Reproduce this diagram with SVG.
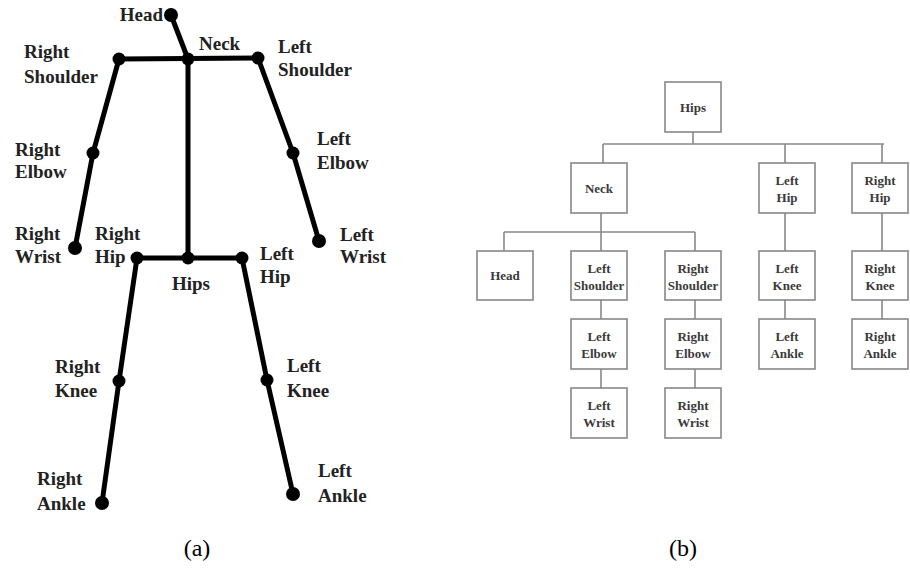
<svg xmlns="http://www.w3.org/2000/svg" width="910" height="569" viewBox="0 0 910 569">
<style>
.bone{stroke:#000;stroke-width:5;stroke-linecap:round;fill:none}
.joint{fill:#000}
.sl{font-family:"Liberation Serif","Times New Roman",serif;font-weight:bold;font-size:19px;fill:#222}
.box{fill:#fff;stroke:#888;stroke-width:1.6}
.link{stroke:#888;stroke-width:1.6;fill:none}
.tl{font-family:"Liberation Serif","Times New Roman",serif;font-weight:bold;font-size:13px;fill:#3a3a3a;text-anchor:middle}
.cap{font-family:"Liberation Serif","Times New Roman",serif;font-size:24px;fill:#000;text-anchor:middle}
</style>
<rect width="910" height="569" fill="#fff"/>
<!-- (a) skeleton -->
<g id="skeleton-connectors">
<line class="bone" x1="171" y1="15" x2="188" y2="59"/>
<line class="bone" x1="119" y1="59" x2="258" y2="58"/>
<line class="bone" x1="188" y1="59" x2="188" y2="258"/>
<polyline class="bone" points="119,59 93,153 75,248"/>
<polyline class="bone" points="258,58 293,153 319,241"/>
<line class="bone" x1="137" y1="258" x2="242" y2="258"/>
<polyline class="bone" points="137,258 119,381 102,503"/>
<polyline class="bone" points="242,258 267,380 293,494"/>
</g>
<g id="j-head"><circle class="joint" cx="171" cy="15" r="7"/><text class="sl" x="163" y="21" text-anchor="end">Head</text></g>
<g id="j-neck"><circle class="joint" cx="188" cy="59" r="6.5"/><text class="sl" x="199" y="50">Neck</text></g>
<g id="j-rshoulder"><circle class="joint" cx="119" cy="59" r="6.5"/><text class="sl" x="24" y="58">Right</text><text class="sl" x="24" y="83">Shoulder</text></g>
<g id="j-lshoulder"><circle class="joint" cx="258" cy="58" r="6.5"/><text class="sl" x="278" y="53">Left</text><text class="sl" x="278" y="76">Shoulder</text></g>
<g id="j-relbow"><circle class="joint" cx="93" cy="153" r="6.5"/><text class="sl" x="15" y="156">Right</text><text class="sl" x="15" y="178">Elbow</text></g>
<g id="j-lelbow"><circle class="joint" cx="293" cy="153" r="6.5"/><text class="sl" x="317" y="145">Left</text><text class="sl" x="317" y="169">Elbow</text></g>
<g id="j-rwrist"><circle class="joint" cx="75" cy="248" r="7"/><text class="sl" x="15" y="240">Right</text><text class="sl" x="15" y="263">Wrist</text></g>
<g id="j-lwrist"><circle class="joint" cx="319" cy="241" r="7"/><text class="sl" x="340" y="241">Left</text><text class="sl" x="340" y="263">Wrist</text></g>
<g id="j-rhip"><circle class="joint" cx="137" cy="258" r="6.5"/><text class="sl" x="95" y="240">Right</text><text class="sl" x="95" y="263">Hip</text></g>
<g id="j-hips"><circle class="joint" cx="188" cy="258" r="6.5"/><text class="sl" x="172" y="290">Hips</text></g>
<g id="j-lhip"><circle class="joint" cx="242" cy="258" r="6.5"/><text class="sl" x="260" y="260">Left</text><text class="sl" x="260" y="283">Hip</text></g>
<g id="j-rknee"><circle class="joint" cx="119" cy="381" r="6.5"/><text class="sl" x="55" y="373">Right</text><text class="sl" x="55" y="397">Knee</text></g>
<g id="j-lknee"><circle class="joint" cx="267" cy="380" r="6.5"/><text class="sl" x="287" y="372">Left</text><text class="sl" x="287" y="397">Knee</text></g>
<g id="j-rankle"><circle class="joint" cx="102" cy="503" r="7"/><text class="sl" x="37" y="485">Right</text><text class="sl" x="37" y="510">Ankle</text></g>
<g id="j-lankle"><circle class="joint" cx="293" cy="494" r="7"/><text class="sl" x="318" y="477">Left</text><text class="sl" x="318" y="502">Ankle</text></g>
<!-- (b) hierarchy -->
<g id="tree-connectors">
<line class="link" x1="693" y1="132" x2="693" y2="144"/>
<line class="link" x1="603" y1="144" x2="884" y2="144"/>
<line class="link" x1="603" y1="144" x2="603" y2="163"/>
<line class="link" x1="785" y1="144" x2="785" y2="163"/>
<line class="link" x1="882" y1="144" x2="882" y2="163"/>
<line class="link" x1="601" y1="213" x2="601" y2="232"/>
<line class="link" x1="504" y1="232" x2="695" y2="232"/>
<line class="link" x1="504" y1="232" x2="504" y2="251"/>
<line class="link" x1="601" y1="232" x2="601" y2="251"/>
<line class="link" x1="695" y1="232" x2="695" y2="251"/>
<line class="link" x1="785" y1="213" x2="785" y2="251"/>
<line class="link" x1="882" y1="213" x2="882" y2="251"/>
<line class="link" x1="601" y1="300" x2="601" y2="319"/>
<line class="link" x1="695" y1="300" x2="695" y2="319"/>
<line class="link" x1="785" y1="300" x2="785" y2="319"/>
<line class="link" x1="882" y1="300" x2="882" y2="319"/>
<line class="link" x1="601" y1="369" x2="601" y2="388"/>
<line class="link" x1="695" y1="369" x2="695" y2="388"/>
</g>
<g id="t-hips"><rect class="box" x="665" y="82" width="56" height="50"/><text class="tl" x="693" y="111.5">Hips</text></g>
<g id="t-neck"><rect class="box" x="571" y="163" width="56" height="50"/><text class="tl" x="599" y="192.5">Neck</text></g>
<g id="t-lhip"><rect class="box" x="759" y="163" width="56" height="50"/><text class="tl" x="787" y="185">Left</text><text class="tl" x="787" y="202">Hip</text></g>
<g id="t-rhip"><rect class="box" x="852" y="163" width="56" height="50"/><text class="tl" x="880" y="185">Right</text><text class="tl" x="880" y="202">Hip</text></g>
<g id="t-head"><rect class="box" x="477" y="251" width="56" height="49"/><text class="tl" x="505" y="280">Head</text></g>
<g id="t-lshoulder"><rect class="box" x="571" y="251" width="56" height="49"/><text class="tl" x="599" y="272.5">Left</text><text class="tl" x="599" y="289.5">Shoulder</text></g>
<g id="t-rshoulder"><rect class="box" x="665" y="251" width="56" height="49"/><text class="tl" x="693" y="272.5">Right</text><text class="tl" x="693" y="289.5">Shoulder</text></g>
<g id="t-lknee"><rect class="box" x="759" y="251" width="56" height="49"/><text class="tl" x="787" y="272.5">Left</text><text class="tl" x="787" y="289.5">Knee</text></g>
<g id="t-rknee"><rect class="box" x="852" y="251" width="56" height="49"/><text class="tl" x="880" y="272.5">Right</text><text class="tl" x="880" y="289.5">Knee</text></g>
<g id="t-lelbow"><rect class="box" x="571" y="319" width="56" height="50"/><text class="tl" x="599" y="341">Left</text><text class="tl" x="599" y="358">Elbow</text></g>
<g id="t-relbow"><rect class="box" x="665" y="319" width="56" height="50"/><text class="tl" x="693" y="341">Right</text><text class="tl" x="693" y="358">Elbow</text></g>
<g id="t-lankle"><rect class="box" x="759" y="319" width="56" height="50"/><text class="tl" x="787" y="341">Left</text><text class="tl" x="787" y="358">Ankle</text></g>
<g id="t-rankle"><rect class="box" x="852" y="319" width="56" height="50"/><text class="tl" x="880" y="341">Right</text><text class="tl" x="880" y="358">Ankle</text></g>
<g id="t-lwrist"><rect class="box" x="571" y="388" width="56" height="50"/><text class="tl" x="599" y="410">Left</text><text class="tl" x="599" y="427">Wrist</text></g>
<g id="t-rwrist"><rect class="box" x="665" y="388" width="56" height="50"/><text class="tl" x="693" y="410">Right</text><text class="tl" x="693" y="427">Wrist</text></g>
<text class="cap" x="197" y="556">(a)</text>
<text class="cap" x="683" y="556">(b)</text>
</svg>
